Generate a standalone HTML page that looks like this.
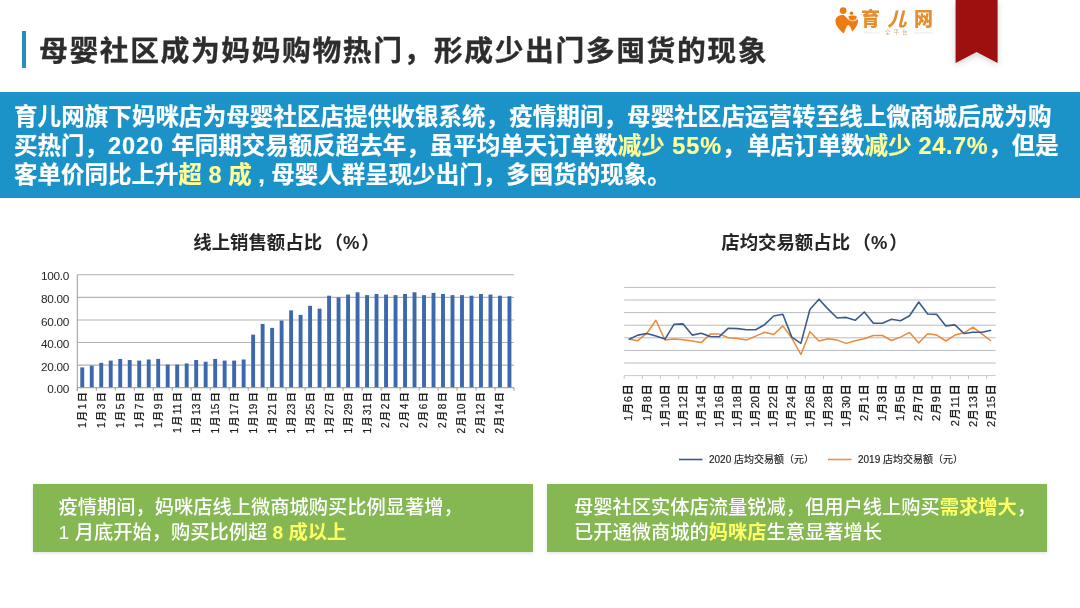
<!DOCTYPE html>
<html lang="zh-CN"><head><meta charset="utf-8"><title>母婴社区成为妈妈购物热门</title>
<style>
html,body{margin:0;padding:0;background:#fff;}
body{width:1080px;height:608px;overflow:hidden;position:relative;font-family:"Liberation Sans","Noto Sans CJK SC",sans-serif;}
.abs{position:absolute;}
.title{left:39px;top:29px;-webkit-text-stroke:.3px #2d2d2d;font-size:28.8px;letter-spacing:1.58px;line-height:44px;font-weight:700;color:#2d2d2d;white-space:nowrap;}
.tbar{left:21.5px;top:31px;width:4px;height:36.5px;background:#2590bd;}
.band{left:0;top:92px;width:1080px;height:106px;background:#1b93c8;}
  .bandt{left:14px;top:103.3px;-webkit-text-stroke:.2px currentColor;font-size:23.5px;line-height:29px;font-weight:700;color:#fff;white-space:nowrap;}
.bandt b{color:#ffff99;font-weight:700;}
.l1{letter-spacing:.08px;}.n{letter-spacing:.9px;}.m{letter-spacing:.6px;}.c{letter-spacing:1.5px;}
.ct{font-size:18.4px;font-weight:700;color:#262626;white-space:nowrap;line-height:24px;text-align:center;width:300px;}
.box{box-shadow:0 1px 3px rgba(0,0,0,.13);background:#85b752;height:68px;top:484px;width:500px;}
.boxt{font-size:19.26px;line-height:25px;color:#fff;white-space:nowrap;top:495.3px;font-weight:500;}
.boxt b{color:#ffff66;font-weight:700;}
svg text{font-family:"Liberation Sans","Noto Sans CJK SC",sans-serif;}
.ax{font-size:10px;fill:#1c1c1c;font-weight:500;word-spacing:-1.2px;stroke:#1c1c1c;stroke-width:.2px;}
.axr{font-size:11px;fill:#1c1c1c;font-weight:500;word-spacing:-2.2px;stroke:#1c1c1c;stroke-width:.2px;}
.ay{font-size:11.8px;fill:#262626;letter-spacing:-0.3px;}
.lg{font-size:10px;fill:#1c1c1c;stroke:#1c1c1c;stroke-width:.15px;}
</style></head><body>
<div class="abs tbar"></div>
<div class="abs title">母婴社区成为妈妈购物热门，形成少出门多囤货的现象</div>
<div class="abs band"></div>
<div class="abs bandt"><span class="l1">育儿网旗下妈咪店为母婴社区店提供收银系统，疫情期间，母婴社区店运营转至线上微商城后成为购</span><br>买热门，<span class="n">2020 </span>年同期交易额反超去年，虽平均单天订单数<b>减少<span class="n"> 55%</span></b><span class="c">，</span>单店订单数<b>减少<span class="m"> 24.7%</span></b>，但是<br>客单价同比上升<b>超 8 成</b> , 母婴人群呈现少出门，多囤货的现象。</div>
<div class="abs ct" style="left:136.5px;top:231px;">线上销售额占比<span style="margin-left:2.5px">（%</span><span style="margin-left:2px">）</span></div>
<div class="abs ct" style="left:664.5px;top:231px;">店均交易额占比<span style="margin-left:2.5px">（%</span><span style="margin-left:2px">）</span></div>
<svg class="abs" style="left:0;top:0" width="1080" height="608" viewBox="0 0 1080 608">
<line x1="77.3" x2="514.0" y1="365.1" y2="365.1" stroke="#b2b2b2" stroke-width="1.1"/>
<line x1="77.3" x2="514.0" y1="342.5" y2="342.5" stroke="#b2b2b2" stroke-width="1.1"/>
<line x1="77.3" x2="514.0" y1="320.0" y2="320.0" stroke="#b2b2b2" stroke-width="1.1"/>
<line x1="77.3" x2="514.0" y1="297.4" y2="297.4" stroke="#b2b2b2" stroke-width="1.1"/>
<line x1="77.3" x2="514.0" y1="274.8" y2="274.8" stroke="#b2b2b2" stroke-width="1.1"/>
<rect x="80.30" y="367.38" width="3.9" height="20.32" fill="#3d69ac"/>
<rect x="89.79" y="365.68" width="3.9" height="22.02" fill="#3d69ac"/>
<rect x="99.28" y="362.86" width="3.9" height="24.84" fill="#3d69ac"/>
<rect x="108.78" y="360.60" width="3.9" height="27.10" fill="#3d69ac"/>
<rect x="118.27" y="358.91" width="3.9" height="28.79" fill="#3d69ac"/>
<rect x="127.76" y="360.04" width="3.9" height="27.66" fill="#3d69ac"/>
<rect x="137.26" y="360.60" width="3.9" height="27.10" fill="#3d69ac"/>
<rect x="146.75" y="359.48" width="3.9" height="28.22" fill="#3d69ac"/>
<rect x="156.24" y="358.91" width="3.9" height="28.79" fill="#3d69ac"/>
<rect x="165.74" y="364.56" width="3.9" height="23.14" fill="#3d69ac"/>
<rect x="175.23" y="364.56" width="3.9" height="23.14" fill="#3d69ac"/>
<rect x="184.73" y="363.43" width="3.9" height="24.27" fill="#3d69ac"/>
<rect x="194.22" y="360.04" width="3.9" height="27.66" fill="#3d69ac"/>
<rect x="203.71" y="361.73" width="3.9" height="25.97" fill="#3d69ac"/>
<rect x="213.21" y="358.91" width="3.9" height="28.79" fill="#3d69ac"/>
<rect x="222.70" y="360.60" width="3.9" height="27.10" fill="#3d69ac"/>
<rect x="232.19" y="360.60" width="3.9" height="27.10" fill="#3d69ac"/>
<rect x="241.69" y="359.48" width="3.9" height="28.22" fill="#3d69ac"/>
<rect x="251.18" y="334.64" width="3.9" height="53.06" fill="#3d69ac"/>
<rect x="260.67" y="323.91" width="3.9" height="63.79" fill="#3d69ac"/>
<rect x="270.17" y="327.86" width="3.9" height="59.84" fill="#3d69ac"/>
<rect x="279.66" y="320.52" width="3.9" height="67.18" fill="#3d69ac"/>
<rect x="289.15" y="310.36" width="3.9" height="77.34" fill="#3d69ac"/>
<rect x="298.65" y="314.88" width="3.9" height="72.82" fill="#3d69ac"/>
<rect x="308.14" y="305.85" width="3.9" height="81.85" fill="#3d69ac"/>
<rect x="317.63" y="308.67" width="3.9" height="79.03" fill="#3d69ac"/>
<rect x="327.13" y="295.69" width="3.9" height="92.01" fill="#3d69ac"/>
<rect x="336.62" y="297.38" width="3.9" height="90.32" fill="#3d69ac"/>
<rect x="346.11" y="294.56" width="3.9" height="93.14" fill="#3d69ac"/>
<rect x="355.61" y="292.30" width="3.9" height="95.40" fill="#3d69ac"/>
<rect x="365.10" y="295.12" width="3.9" height="92.58" fill="#3d69ac"/>
<rect x="374.59" y="293.99" width="3.9" height="93.71" fill="#3d69ac"/>
<rect x="384.09" y="294.56" width="3.9" height="93.14" fill="#3d69ac"/>
<rect x="393.58" y="295.12" width="3.9" height="92.58" fill="#3d69ac"/>
<rect x="403.08" y="293.99" width="3.9" height="93.71" fill="#3d69ac"/>
<rect x="412.57" y="292.30" width="3.9" height="95.40" fill="#3d69ac"/>
<rect x="422.06" y="295.12" width="3.9" height="92.58" fill="#3d69ac"/>
<rect x="431.56" y="292.86" width="3.9" height="94.84" fill="#3d69ac"/>
<rect x="441.05" y="293.99" width="3.9" height="93.71" fill="#3d69ac"/>
<rect x="450.54" y="295.12" width="3.9" height="92.58" fill="#3d69ac"/>
<rect x="460.04" y="295.12" width="3.9" height="92.58" fill="#3d69ac"/>
<rect x="469.53" y="295.69" width="3.9" height="92.01" fill="#3d69ac"/>
<rect x="479.02" y="293.99" width="3.9" height="93.71" fill="#3d69ac"/>
<rect x="488.52" y="294.56" width="3.9" height="93.14" fill="#3d69ac"/>
<rect x="498.01" y="295.69" width="3.9" height="92.01" fill="#3d69ac"/>
<rect x="507.50" y="296.25" width="3.9" height="91.45" fill="#3d69ac"/>
<line x1="77.3" x2="514.0" y1="387.7" y2="387.7" stroke="#9a9a9a" stroke-width="1"/>
<line x1="77.3" x2="77.3" y1="274.8" y2="390.7" stroke="#9a9a9a" stroke-width="1"/>
<line x1="77.3" x2="77.3" y1="387.7" y2="390.7" stroke="#9a9a9a" stroke-width="1"/>
<line x1="96.3" x2="96.3" y1="387.7" y2="390.7" stroke="#9a9a9a" stroke-width="1"/>
<line x1="115.3" x2="115.3" y1="387.7" y2="390.7" stroke="#9a9a9a" stroke-width="1"/>
<line x1="134.3" x2="134.3" y1="387.7" y2="390.7" stroke="#9a9a9a" stroke-width="1"/>
<line x1="153.2" x2="153.2" y1="387.7" y2="390.7" stroke="#9a9a9a" stroke-width="1"/>
<line x1="172.2" x2="172.2" y1="387.7" y2="390.7" stroke="#9a9a9a" stroke-width="1"/>
<line x1="191.2" x2="191.2" y1="387.7" y2="390.7" stroke="#9a9a9a" stroke-width="1"/>
<line x1="210.2" x2="210.2" y1="387.7" y2="390.7" stroke="#9a9a9a" stroke-width="1"/>
<line x1="229.2" x2="229.2" y1="387.7" y2="390.7" stroke="#9a9a9a" stroke-width="1"/>
<line x1="248.2" x2="248.2" y1="387.7" y2="390.7" stroke="#9a9a9a" stroke-width="1"/>
<line x1="267.2" x2="267.2" y1="387.7" y2="390.7" stroke="#9a9a9a" stroke-width="1"/>
<line x1="286.2" x2="286.2" y1="387.7" y2="390.7" stroke="#9a9a9a" stroke-width="1"/>
<line x1="305.1" x2="305.1" y1="387.7" y2="390.7" stroke="#9a9a9a" stroke-width="1"/>
<line x1="324.1" x2="324.1" y1="387.7" y2="390.7" stroke="#9a9a9a" stroke-width="1"/>
<line x1="343.1" x2="343.1" y1="387.7" y2="390.7" stroke="#9a9a9a" stroke-width="1"/>
<line x1="362.1" x2="362.1" y1="387.7" y2="390.7" stroke="#9a9a9a" stroke-width="1"/>
<line x1="381.1" x2="381.1" y1="387.7" y2="390.7" stroke="#9a9a9a" stroke-width="1"/>
<line x1="400.1" x2="400.1" y1="387.7" y2="390.7" stroke="#9a9a9a" stroke-width="1"/>
<line x1="419.1" x2="419.1" y1="387.7" y2="390.7" stroke="#9a9a9a" stroke-width="1"/>
<line x1="438.1" x2="438.1" y1="387.7" y2="390.7" stroke="#9a9a9a" stroke-width="1"/>
<line x1="457.0" x2="457.0" y1="387.7" y2="390.7" stroke="#9a9a9a" stroke-width="1"/>
<line x1="476.0" x2="476.0" y1="387.7" y2="390.7" stroke="#9a9a9a" stroke-width="1"/>
<line x1="495.0" x2="495.0" y1="387.7" y2="390.7" stroke="#9a9a9a" stroke-width="1"/>
<line x1="514.0" x2="514.0" y1="387.7" y2="390.7" stroke="#9a9a9a" stroke-width="1"/>
<text class="ax" text-anchor="end" transform="translate(85.6,392.2) rotate(-90)">1 月 1 日</text>
<text class="ax" text-anchor="end" transform="translate(104.6,392.2) rotate(-90)">1 月 3 日</text>
<text class="ax" text-anchor="end" transform="translate(123.6,392.2) rotate(-90)">1 月 5 日</text>
<text class="ax" text-anchor="end" transform="translate(142.6,392.2) rotate(-90)">1 月 7 日</text>
<text class="ax" text-anchor="end" transform="translate(161.6,392.2) rotate(-90)">1 月 9 日</text>
<text class="ax" text-anchor="end" transform="translate(180.6,392.2) rotate(-90)">1 月 11 日</text>
<text class="ax" text-anchor="end" transform="translate(199.6,392.2) rotate(-90)">1 月 13 日</text>
<text class="ax" text-anchor="end" transform="translate(218.6,392.2) rotate(-90)">1 月 15 日</text>
<text class="ax" text-anchor="end" transform="translate(237.5,392.2) rotate(-90)">1 月 17 日</text>
<text class="ax" text-anchor="end" transform="translate(256.5,392.2) rotate(-90)">1 月 19 日</text>
<text class="ax" text-anchor="end" transform="translate(275.5,392.2) rotate(-90)">1 月 21 日</text>
<text class="ax" text-anchor="end" transform="translate(294.5,392.2) rotate(-90)">1 月 23 日</text>
<text class="ax" text-anchor="end" transform="translate(313.5,392.2) rotate(-90)">1 月 25 日</text>
<text class="ax" text-anchor="end" transform="translate(332.5,392.2) rotate(-90)">1 月 27 日</text>
<text class="ax" text-anchor="end" transform="translate(351.5,392.2) rotate(-90)">1 月 29 日</text>
<text class="ax" text-anchor="end" transform="translate(370.5,392.2) rotate(-90)">1 月 31 日</text>
<text class="ax" text-anchor="end" transform="translate(389.4,392.2) rotate(-90)">2 月 2 日</text>
<text class="ax" text-anchor="end" transform="translate(408.4,392.2) rotate(-90)">2 月 4 日</text>
<text class="ax" text-anchor="end" transform="translate(427.4,392.2) rotate(-90)">2 月 6 日</text>
<text class="ax" text-anchor="end" transform="translate(446.4,392.2) rotate(-90)">2 月 8 日</text>
<text class="ax" text-anchor="end" transform="translate(465.4,392.2) rotate(-90)">2 月 10 日</text>
<text class="ax" text-anchor="end" transform="translate(484.4,392.2) rotate(-90)">2 月 12 日</text>
<text class="ax" text-anchor="end" transform="translate(503.4,392.2) rotate(-90)">2 月 14 日</text>
<text class="ay" text-anchor="end" x="69" y="393.2">0.00</text>
<text class="ay" text-anchor="end" x="69" y="370.6">20.00</text>
<text class="ay" text-anchor="end" x="69" y="348.0">40.00</text>
<text class="ay" text-anchor="end" x="69" y="325.5">60.00</text>
<text class="ay" text-anchor="end" x="69" y="302.9">80.00</text>
<text class="ay" text-anchor="end" x="69" y="280.3">100.0</text>
<line x1="624.2" x2="995.6" y1="287.4" y2="287.4" stroke="#b9bcc2" stroke-width="1"/>
<line x1="624.2" x2="995.6" y1="300.0" y2="300.0" stroke="#b9bcc2" stroke-width="1"/>
<line x1="624.2" x2="995.6" y1="312.6" y2="312.6" stroke="#b9bcc2" stroke-width="1"/>
<line x1="624.2" x2="995.6" y1="325.2" y2="325.2" stroke="#b9bcc2" stroke-width="1"/>
<line x1="624.2" x2="995.6" y1="337.8" y2="337.8" stroke="#b9bcc2" stroke-width="1"/>
<line x1="624.2" x2="995.6" y1="350.4" y2="350.4" stroke="#b9bcc2" stroke-width="1"/>
<line x1="624.2" x2="995.6" y1="363.0" y2="363.0" stroke="#b9bcc2" stroke-width="1"/>
<line x1="624.2" x2="995.6" y1="375.6" y2="375.6" stroke="#c9c9c9" stroke-width="1"/>
<line x1="624.2" x2="624.2" y1="375.6" y2="379" stroke="#c9c9c9" stroke-width="1"/>
<line x1="642.3" x2="642.3" y1="375.6" y2="379" stroke="#c9c9c9" stroke-width="1"/>
<line x1="660.4" x2="660.4" y1="375.6" y2="379" stroke="#c9c9c9" stroke-width="1"/>
<line x1="678.6" x2="678.6" y1="375.6" y2="379" stroke="#c9c9c9" stroke-width="1"/>
<line x1="696.7" x2="696.7" y1="375.6" y2="379" stroke="#c9c9c9" stroke-width="1"/>
<line x1="714.8" x2="714.8" y1="375.6" y2="379" stroke="#c9c9c9" stroke-width="1"/>
<line x1="732.9" x2="732.9" y1="375.6" y2="379" stroke="#c9c9c9" stroke-width="1"/>
<line x1="751.0" x2="751.0" y1="375.6" y2="379" stroke="#c9c9c9" stroke-width="1"/>
<line x1="769.2" x2="769.2" y1="375.6" y2="379" stroke="#c9c9c9" stroke-width="1"/>
<line x1="787.3" x2="787.3" y1="375.6" y2="379" stroke="#c9c9c9" stroke-width="1"/>
<line x1="805.4" x2="805.4" y1="375.6" y2="379" stroke="#c9c9c9" stroke-width="1"/>
<line x1="823.5" x2="823.5" y1="375.6" y2="379" stroke="#c9c9c9" stroke-width="1"/>
<line x1="841.6" x2="841.6" y1="375.6" y2="379" stroke="#c9c9c9" stroke-width="1"/>
<line x1="859.8" x2="859.8" y1="375.6" y2="379" stroke="#c9c9c9" stroke-width="1"/>
<line x1="877.9" x2="877.9" y1="375.6" y2="379" stroke="#c9c9c9" stroke-width="1"/>
<line x1="896.0" x2="896.0" y1="375.6" y2="379" stroke="#c9c9c9" stroke-width="1"/>
<line x1="914.1" x2="914.1" y1="375.6" y2="379" stroke="#c9c9c9" stroke-width="1"/>
<line x1="932.2" x2="932.2" y1="375.6" y2="379" stroke="#c9c9c9" stroke-width="1"/>
<line x1="950.4" x2="950.4" y1="375.6" y2="379" stroke="#c9c9c9" stroke-width="1"/>
<line x1="968.5" x2="968.5" y1="375.6" y2="379" stroke="#c9c9c9" stroke-width="1"/>
<line x1="986.6" x2="986.6" y1="375.6" y2="379" stroke="#c9c9c9" stroke-width="1"/>
<text class="axr" text-anchor="end" transform="translate(632.3,384.2) rotate(-90)">1 月 6 日</text>
<text class="axr" text-anchor="end" transform="translate(650.5,384.2) rotate(-90)">1 月 8 日</text>
<text class="axr" text-anchor="end" transform="translate(668.6,384.2) rotate(-90)">1 月 10 日</text>
<text class="axr" text-anchor="end" transform="translate(686.7,384.2) rotate(-90)">1 月 12 日</text>
<text class="axr" text-anchor="end" transform="translate(704.8,384.2) rotate(-90)">1 月 14 日</text>
<text class="axr" text-anchor="end" transform="translate(722.9,384.2) rotate(-90)">1 月 16 日</text>
<text class="axr" text-anchor="end" transform="translate(741.1,384.2) rotate(-90)">1 月 18 日</text>
<text class="axr" text-anchor="end" transform="translate(759.2,384.2) rotate(-90)">1 月 20 日</text>
<text class="axr" text-anchor="end" transform="translate(777.3,384.2) rotate(-90)">1 月 22 日</text>
<text class="axr" text-anchor="end" transform="translate(795.4,384.2) rotate(-90)">1 月 24 日</text>
<text class="axr" text-anchor="end" transform="translate(813.5,384.2) rotate(-90)">1 月 26 日</text>
<text class="axr" text-anchor="end" transform="translate(831.7,384.2) rotate(-90)">1 月 28 日</text>
<text class="axr" text-anchor="end" transform="translate(849.8,384.2) rotate(-90)">1 月 30 日</text>
<text class="axr" text-anchor="end" transform="translate(867.9,384.2) rotate(-90)">2 月 1 日</text>
<text class="axr" text-anchor="end" transform="translate(886.0,384.2) rotate(-90)">1 月 3 日</text>
<text class="axr" text-anchor="end" transform="translate(904.1,384.2) rotate(-90)">1 月 5 日</text>
<text class="axr" text-anchor="end" transform="translate(922.3,384.2) rotate(-90)">2 月 7 日</text>
<text class="axr" text-anchor="end" transform="translate(940.4,384.2) rotate(-90)">2 月 9 日</text>
<text class="axr" text-anchor="end" transform="translate(958.5,384.2) rotate(-90)">2 月 11 日</text>
<text class="axr" text-anchor="end" transform="translate(976.6,384.2) rotate(-90)">2 月 13 日</text>
<text class="axr" text-anchor="end" transform="translate(994.7,384.2) rotate(-90)">2 月 15 日</text>
<polyline fill="none" stroke="#ea8a3a" stroke-width="1.5" stroke-linejoin="round" points="628.7,339.1 637.8,340.7 646.9,333.2 655.9,320.3 665.0,340.1 674.0,339.1 683.1,339.7 692.2,341.0 701.2,342.6 710.3,334.1 719.3,334.1 728.4,337.7 737.5,338.5 746.5,340.1 755.6,336.1 764.6,332.2 773.7,334.5 782.8,325.9 791.8,338.1 800.9,354.5 809.9,331.8 819.0,341.0 828.1,338.7 837.1,340.1 846.2,343.4 855.2,340.7 864.3,338.7 873.4,335.5 882.4,335.5 891.5,340.5 900.5,337.1 909.6,332.4 918.7,343.0 927.7,333.7 936.8,335.1 945.8,341.0 954.9,335.1 964.0,332.8 973.0,327.2 982.1,334.1 991.1,341.0"/>
<polyline fill="none" stroke="#3b5b8e" stroke-width="1.6" stroke-linejoin="round" points="628.7,339.5 637.8,335.1 646.9,333.5 655.9,336.1 665.0,339.1 674.0,324.3 683.1,323.9 692.2,335.1 701.2,333.2 710.3,336.5 719.3,336.7 728.4,328.2 737.5,328.6 746.5,329.8 755.6,329.8 764.6,324.7 773.7,316.0 782.8,314.2 791.8,337.1 800.9,343.4 809.9,309.5 819.0,299.2 828.1,309.1 837.1,318.0 846.2,317.4 855.2,320.3 864.3,312.0 873.4,323.3 882.4,323.3 891.5,319.3 900.5,320.7 909.6,315.8 918.7,302.0 927.7,314.0 936.8,314.4 945.8,325.9 954.9,324.9 964.0,333.5 973.0,332.2 982.1,332.2 991.1,330.2"/>
<line x1="679" x2="702.5" y1="459.5" y2="459.5" stroke="#3b5b8e" stroke-width="1.6"/>
<text class="lg" x="709" y="463">2020 店均交易额（元）</text>
<line x1="828" x2="851.5" y1="459.5" y2="459.5" stroke="#e9904a" stroke-width="1.6"/>
<text class="lg" x="858" y="463">2019 店均交易额（元）</text>
</svg>
<div class="abs box" style="left:33px;"></div>
<div class="abs box" style="left:547px;"></div>
<div class="abs boxt" style="left:58.6px;">疫情期间，妈咪店线上微商城购买比例显著增，<br>1 月底开始，购买比例超 <b>8 成以上</b></div>
<div class="abs boxt" style="left:574px;">母婴社区实体店流量锐减，但用户线上购买<b>需求增大</b>，<br>已开通微商城的<b>妈咪店</b>生意显著增长</div>
<!-- ribbon -->
<svg class="abs" style="left:940px;top:0;filter:drop-shadow(0 2px 3px rgba(0,0,0,.18))" width="80" height="80" viewBox="940 0 80 80">
<polygon points="955.6,0 997.6,0 997.6,63 976.6,52 955.6,63" fill="#9e0f10"/>
</svg>
<!-- logo -->
<svg class="abs" style="left:825px;top:0" width="120" height="45" viewBox="0 0 1080 405">
<g fill="#ee7a12" transform="translate(45,36) scale(0.5028)">
<circle cx="235" cy="118" r="60"/>
<path d="M100 330 C85 250 150 185 250 200 C300 260 380 300 500 270 C515 360 450 450 395 495 C385 440 360 390 325 370 C290 410 265 470 250 530 C180 470 115 410 100 330 Z"/>
<path d="M296 236 C340 312 440 324 506 262" fill="none" stroke="#ffe9cc" stroke-width="16"/>
<circle cx="385" cy="166" r="32"/>
<path d="M328 222 C370 200 440 204 484 234 C470 272 430 292 390 286 C355 280 335 255 328 222 Z"/>
</g>
<line x1="350" x2="490" y1="296" y2="296" stroke="#d9d9d9" stroke-width="5"/>
<line x1="800" x2="970" y1="296" y2="296" stroke="#d9d9d9" stroke-width="5"/>
</svg>
<div class="abs" style="left:861px;top:6px;font-weight:900;font-size:19px;line-height:28px;color:#e58f30;letter-spacing:7.5px;white-space:nowrap;">育<i>儿</i>网</div>
<div class="abs" style="left:885px;top:28.5px;font-size:5.5px;line-height:7px;color:#d8a878;letter-spacing:3px;white-space:nowrap;">全平台</div>
</body></html>
